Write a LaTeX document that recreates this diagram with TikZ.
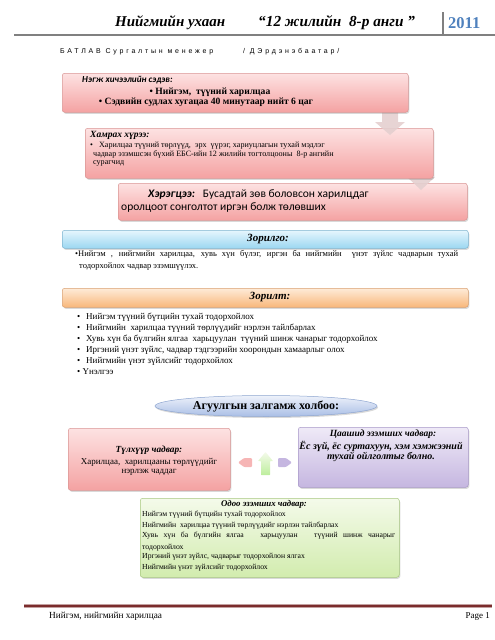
\documentclass[tikz,border=0pt]{standalone}
\usepackage{fontspec}
\setmainfont{Liberation Serif}
\newfontfamily\calib{Carlito}
\newfontfamily\arialf{Liberation Sans}
\usetikzlibrary{shapes.geometric,shadows}
\definecolor{pinkT}{HTML}{FDE2E2}
\definecolor{pinkB}{HTML}{F4A2A2}
\definecolor{pinkD}{HTML}{D99694}
\definecolor{blueT}{HTML}{E6F6FD}
\definecolor{blueB}{HTML}{9CD7F1}
\definecolor{blueD}{HTML}{7FB5D0}
\definecolor{orT}{HTML}{FEEBD8}
\definecolor{orB}{HTML}{F8B77A}
\definecolor{orD}{HTML}{D9A070}
\definecolor{ellT}{HTML}{EEF2FA}
\definecolor{ellB}{HTML}{A9BEE6}
\definecolor{ellD}{HTML}{8DA5D0}
\definecolor{purT}{HTML}{EFEAF7}
\definecolor{purB}{HTML}{C5B6E0}
\definecolor{purD}{HTML}{A898C8}
\definecolor{grT}{HTML}{F4FAEA}
\definecolor{grB}{HTML}{D2ECAE}
\definecolor{grD}{HTML}{A8C880}
\definecolor{arrowC}{HTML}{E4CFCF}
\definecolor{yearC}{HTML}{4F81BD}
\definecolor{footR}{HTML}{7B2C2C}
\tikzset{
  boxbase/.style={rounded corners=2.5pt, line width=0.5pt, anchor=north west, inner sep=0pt,
    drop shadow={opacity=0.3, shadow xshift=1pt, shadow yshift=-1.5pt}},
  pinkbox/.style={boxbase, draw=pinkD, top color=pinkT, bottom color=pinkB},
  bluebar/.style={boxbase, draw=blueD, top color=blueT, bottom color=blueB},
  orbar/.style={boxbase, draw=orD, top color=orT, bottom color=orB},
  purbox/.style={boxbase, draw=purD, top color=purT, bottom color=purB},
  grbox/.style={boxbase, draw=grD, top color=grT, bottom color=grB},
  txt/.style={inner sep=0pt, anchor=west},
  ctxt/.style={inner sep=0pt, anchor=center, align=center},
  downarrow/.style={fill=arrowC, draw=none, opacity=0.9},
}
\begin{document}
\begin{tikzpicture}[x=1pt,y=-1pt]
\useasboundingbox (0,0) rectangle (495,640);
% header
\node[txt] (h1) at (115,23) {\bfseries\itshape\fontsize{15}{17}\selectfont Нийгмийн ухаан};
\node[txt] (h2) at (258,23) {\bfseries\itshape\fontsize{15.3}{17}\selectfont “12 жилийн\ \ 8-р анги ”};
\node[txt] (h3) at (448,23.5) {\bfseries\color{yearC}\fontsize{16.5}{18}\selectfont 2011};
\coordinate (hl1) at (14,35);
\coordinate (hl2) at (495,35);
\coordinate (vl1) at (443,12);
\coordinate (vl2) at (443,35);
\draw[gray, line width=1.2pt] (hl1) -- (hl2);
\draw[gray, line width=1.2pt] (vl1) -- (vl2);
\node[txt] (bat) at (60,52) {\arialf\addfontfeature{LetterSpace=40}\fontsize{7}{8}\selectfont БАТЛАВ Сургалтын менежер};
\node[txt] (erd) at (243,52) {\arialf\addfontfeature{LetterSpace=40}\fontsize{7}{8}\selectfont / ДЭрдэнэбаатар/};

% stacked boxes (back to front)
\node[pinkbox, minimum width=349pt, minimum height=37pt] (b3) at (118,183) {};
\path[downarrow] (412,160) -- (428,160) -- (428,177) -- (435,177) -- (421,190) -- (407,177) -- (412,177) -- cycle;
\node[pinkbox, minimum width=348pt, minimum height=50pt] (b2) at (85,128) {};
\path[downarrow] (382,105) -- (398,105) -- (398,122) -- (405,122) -- (390,135) -- (375,122) -- (382,122) -- cycle;
\node[pinkbox, minimum width=346pt, minimum height=39pt] (b1) at (62,73) {};

\node[txt] (b1t) at (82,80) {\calib\bfseries\itshape\fontsize{9.2}{10}\selectfont Нэгж хичээлийн сэдэв:};
\node[ctxt] (b1a) at (210,92) {\bfseries\fontsize{9.6}{10}\selectfont • Нийгэм,\ \ түүний харилцаа};
\node[ctxt] (b1b) at (206,102.5) {\bfseries\fontsize{9.6}{10}\selectfont • Сэдвийн судлах хугацаа 40 минутаар нийт 6 цаг};

\node[txt] (b2t) at (90,135.5) {\bfseries\itshape\fontsize{9.5}{10}\selectfont Хамрах хүрээ:};
\node[txt] (b2a) at (90,146) {\fontsize{8.1}{9}\selectfont •\ \ \ Харилцаа түүний төрлүүд,\ \ эрх\ \ үүрэг, хариуцлагын тухай мэдлэг};
\node[txt] (b2b) at (93,154.5) {\fontsize{8.1}{9}\selectfont чадвар эзэмшсэн бүхий ЕБС-ийн 12 жилийн тогтолцооны\ \ 8-р ангийн};
\node[txt] (b2c) at (93,163) {\fontsize{8.1}{9}\selectfont сурагчид};

\node[txt] (b3a) at (148,195) {\calib\fontsize{11.5}{12}\selectfont {\bfseries\itshape Хэрэгцээ:}\ \ \ Бусадтай зөв боловсон харилцдаг};
\node[txt] (b3b) at (121,208) {\calib\fontsize{11.5}{12}\selectfont оролцоот сонголтот иргэн болж төлөвших};

% Zorilgo
\node[bluebar, minimum width=406pt, minimum height=18pt] (zg) at (62,230) {};
\node[ctxt] (zgt) at (268,239) {\bfseries\itshape\fontsize{11}{12}\selectfont Зорилго:};
\node[inner sep=0pt, anchor=north west, text width=383pt, align=justify] (zgx) at (75,250.5)
  {\fontsize{8.5}{9.5}\selectfont •Нийгэм , нийгмийн харилцаа, хувь хүн бүлэг, иргэн ба нийгмийн\ \ үнэт зүйлс чадварын тухай\linebreak \hspace*{4pt}тодорхойлох чадвар эзэмшүүлэх.};

% Zorilt
\node[orbar, minimum width=406pt, minimum height=19pt] (zt) at (62,288) {};
\node[ctxt] (ztt) at (270,297.5) {\bfseries\itshape\fontsize{11}{12}\selectfont Зорилт:};
\foreach \yy/\tt [count=\i] in {317/Нийгэм түүний бүтцийн тухай тодорхойлох,
  328/{Нийгмийн\ \ харилцаа түүний төрлүүдийг нэрлэн тайлбарлах},
  339/{Хувь хүн ба бүлгийн ялгаа\ \ харьцуулан\ \ түүний шинж чанарыг тодорхойлох},
  350/{Иргэний үнэт зүйлс, чадвар тэдгээрийн хоорондын хамаарлыг олох},
  361/Нийгмийн үнэт зүйлсийг тодорхойлох}{
  \node[txt] (zb\i) at (77,\yy) {\fontsize{9}{10}\selectfont •};
  \node[txt] (zi\i) at (86,\yy) {\fontsize{9}{10}\selectfont \tt};
}
\node[txt] (zi6) at (77,372) {\fontsize{9}{10}\selectfont • Үнэлгээ};

% Ellipse
\node[ellipse, draw=ellD, line width=0.5pt, top color=ellT, bottom color=ellB, minimum width=222pt, minimum height=21pt, inner sep=0pt,
  drop shadow={opacity=0.3, shadow xshift=1pt, shadow yshift=-1.5pt}] (el) at (266,406)
  {\bfseries\fontsize{12}{13}\selectfont Агуулгын залгамж холбоо:};

% left and right boxes
\node[pinkbox, minimum width=162pt, minimum height=62pt] (lb) at (68,428) {};
\node[ctxt] (lbt) at (149,450) {\bfseries\itshape\fontsize{9.3}{10}\selectfont Түлхүүр чадвар:};
\node[ctxt] (lba) at (149,462) {\fontsize{9}{10}\selectfont Харилцаа,\ \ харилцааны төрлүүдийг};
\node[ctxt] (lbb) at (149,472) {\fontsize{9}{10}\selectfont нэрлэж чаддаг};

\node[purbox, minimum width=170pt, minimum height=60pt] (rb) at (298,427) {};
\node[ctxt] (rbt) at (383,434) {\bfseries\itshape\fontsize{9.5}{10}\selectfont Цаашид эзэмших чадвар:};
\node[ctxt] (rba) at (381,446) {\bfseries\itshape\fontsize{10}{11}\selectfont Ёс зүй, ёс суртахуун, хэм хэмжээний};
\node[ctxt] (rbb) at (381,456.5) {\bfseries\itshape\fontsize{10}{11}\selectfont тухай ойлголтыг болно.};

% small arrows
\path[fill=pinkB!80, rounded corners=1pt] (252,458) -- (244,458) -- (238,462.5) -- (244,467) -- (252,467) -- cycle;
\path[top color=grT, bottom color=grB!90!green, rounded corners=0.5pt] (261,475) -- (261,461) -- (258,461) -- (265.5,452) -- (273,461) -- (270,461) -- (270,475) -- cycle;
\path[fill=purB, rounded corners=1pt] (278,458) -- (286,458) -- (292,462.5) -- (286,467) -- (278,467) -- cycle;

% green box
\node[grbox, minimum width=259pt, minimum height=79pt] (gb) at (140,498) {};
\node[ctxt] (gbt) at (264,504.5) {\bfseries\itshape\fontsize{8.8}{9.5}\selectfont Одоо эзэмших чадвар:};
\node[txt] (g1) at (142,515) {\fontsize{7.7}{8.5}\selectfont Нийгэм түүний бүтцийн тухай тодорхойлох};
\node[txt] (g2) at (142,526) {\fontsize{7.7}{8.5}\selectfont Нийгмийн\ \ харилцаа түүний төрлүүдийг нэрлэн тайлбарлах};
\node[inner sep=0pt, anchor=north west, text width=253pt, align=justify] (g3) at (142,532)
  {\fontsize{7.7}{8.3}\selectfont Хувь хүн ба бүлгийн ялгаа\ \ \ харьцуулан\ \ \ түүний шинж чанарыг\linebreak тодорхойлох};
\node[txt] (g4) at (142,557) {\fontsize{7.7}{8.5}\selectfont Иргэний үнэт зүйлс, чадварыг тодорхойлон ялгах};
\node[txt] (g5) at (142,568) {\fontsize{7.7}{8.5}\selectfont Нийгмийн үнэт зүйлсийг тодорхойлох};

% footer
\coordinate (f1) at (24,606);
\coordinate (f2) at (492,606);
\draw[color=footR!45, line width=4pt] (f1) -- (f2);
\draw[color=footR, line width=2.2pt] (f1) -- (f2);
\node[txt] (ft) at (49,616) {\fontsize{9.3}{10}\selectfont Нийгэм, нийгмийн харилцаа};
\node[inner sep=0pt, anchor=east] (pg) at (490,616) {\fontsize{9}{10}\selectfont Page 1};
\end{tikzpicture}
\end{document}
